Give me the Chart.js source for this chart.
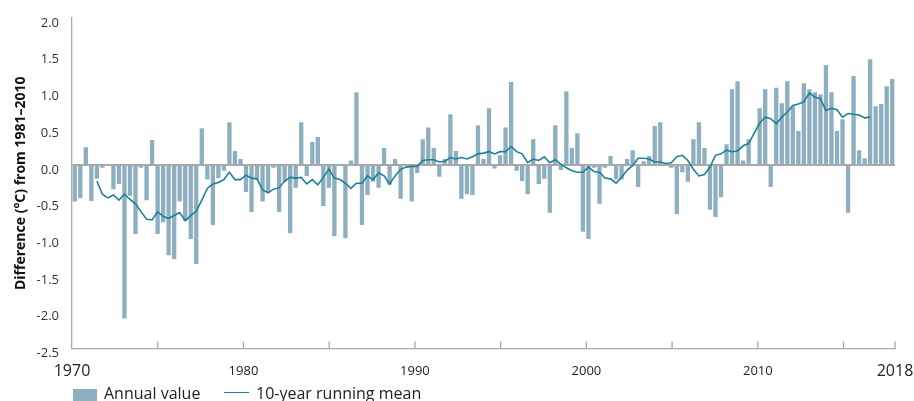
<!DOCTYPE html>
<html>
<head>
<meta charset="utf-8">
<script src="https://cdn.jsdelivr.net/npm/chart.js@4.4.1/dist/chart.umd.min.js"></script>
<style>
  html, body { margin: 0; padding: 0; background: #fff; }
  #wrap { position: relative; width: 914px; height: 401px; overflow: hidden; }
  #chart { position: absolute; left: 0; top: 0; }
  .lg { position: absolute; font-family: "Open Sans", sans-serif; font-size: 16px; line-height: 18px; color: #222; white-space: nowrap; }
  .lg-box { position: absolute; left: 73px; top: 389px; width: 24px; height: 13px; background: #8eafc0; }
  .lg-line { position: absolute; left: 224px; top: 392px; width: 25px; height: 0; border-top: 1.6px solid #1d7f98; }
</style>
</head>
<body>
<div id="wrap">
  <canvas id="chart" width="914" height="401"></canvas>
  <span class="lg-box"></span>
  <span class="lg" style="left:104px; top:384px;">Annual value</span>
  <span class="lg-line"></span>
  <span class="lg" style="left:256px; top:384px;">10-year running mean</span>
</div>
<script>
// ---- data ----
const annualValues = [
  -0.50, -0.45, 0.24, -0.49, -0.19, -0.04, 0.01, -0.33, -0.26, -2.09,
  -0.42, -0.94, -0.04, -0.48, 0.34, -0.94, -0.78, -1.23, -1.28, -0.50,
  -0.76, -1.01, -1.35, 0.50, -0.20, -0.82, -0.18, -0.08, 0.58, 0.19,
  0.08, -0.37, -0.64, -0.20, -0.50, -0.37, -0.04, -0.64, -0.23, -0.93,
  -0.31, 0.58, -0.15, 0.31, 0.38, -0.56, -0.31, -0.97, 0.01, -1.00,
  0.06, 0.99, -0.82, -0.41, -0.23, -0.31, 0.23, -0.27, 0.08, -0.46,
  -0.01, -0.50, -0.11, 0.35, 0.51, 0.23, -0.16, 0.08, 0.69, 0.19,
  -0.46, -0.40, -0.41, 0.54, 0.08, 0.77, -0.05, 0.13, 0.51, 1.13,
  -0.08, -0.22, -0.40, 0.35, -0.26, -0.19, -0.65, 0.54, -0.07, 1.00,
  0.23, 0.43, -0.91, -1.01, -0.04, -0.53, -0.04, 0.12, -0.20, -0.20,
  0.08, 0.20, -0.30, 0.05, 0.12, 0.53, 0.58, 0.00, -0.04, -0.67,
  -0.10, -0.23, 0.35, 0.58, 0.23, -0.61, -0.71, -0.44, 0.28, 1.03,
  1.14, 0.06, 0.35, 0.00, 0.77, 1.03, -0.30, 1.05, 0.84, 1.14,
  0.80, 0.46, 1.11, 1.03, 0.99, 0.96, 1.36, 0.99, 0.46, 0.62,
  -0.65, 1.21, 0.20, 0.09, 1.44, 0.80, 0.83, 1.07, 1.17
];

const runningMean = [
  null, null, null, null, -0.22, -0.40, -0.45, -0.41, -0.48, -0.40,
  -0.47, -0.53, -0.64, -0.74, -0.75, -0.64, -0.70, -0.73, -0.69, -0.65,
  -0.76, -0.69, -0.63, -0.48, -0.32, -0.26, -0.24, -0.20, -0.10, -0.20,
  -0.20, -0.14, -0.18, -0.19, -0.34, -0.38, -0.33, -0.31, -0.22, -0.17,
  -0.18, -0.17, -0.26, -0.20, -0.27, -0.17, -0.06, -0.18, -0.20, -0.25,
  -0.32, -0.25, -0.25, -0.15, -0.20, -0.11, -0.15, -0.26, -0.15, -0.06,
  -0.03, -0.02, -0.02, 0.06, 0.07, 0.07, 0.04, 0.05, 0.10, 0.08,
  0.10, 0.08, 0.11, 0.15, 0.16, 0.18, 0.15, 0.18, 0.18, 0.25,
  0.18, 0.15, 0.03, 0.08, 0.06, 0.11, 0.03, 0.07, 0.01, -0.04,
  -0.08, -0.10, -0.10, -0.03, -0.09, -0.10, -0.18, -0.19, -0.25, -0.17,
  -0.07, -0.01, 0.09, 0.09, 0.08, 0.04, 0.04, 0.02, 0.03, 0.11,
  0.13, 0.06, -0.06, -0.15, -0.13, -0.03, 0.13, 0.15, 0.20, 0.18,
  0.19, 0.26, 0.29, 0.43, 0.57, 0.65, 0.63, 0.56, 0.65, 0.72,
  0.81, 0.83, 0.86, 0.98, 0.92, 0.90, 0.74, 0.77, 0.75, 0.65,
  0.70, 0.69, 0.68, 0.64, 0.65, null, null, null, null
];

const categories = annualValues.map((v, i) => String(i + 1));

const xTickYears = [1970, 1975, 1980, 1985, 1990, 1995, 2000, 2005, 2010, 2015, 2018];
const xLabelYears = [1970, 1980, 1990, 2000, 2010, 2018];
const xBigLabels = [1970, 2018];
const yTicks = [-2.5, -2.0, -1.5, -1.0, -0.5, 0.0, 0.5, 1.0, 1.5, 2.0];

const FONT = "'Open Sans', sans-serif";
const axisGray = "#a8a8a8";
const barColor = "#8eafc0";
const lineColor = "#1d7f98";

// small upward tick marks on the year axis
const innerTicks = {
  id: "innerTicks",
  afterDraw(chart) {
    const s = chart.scales.xYears;
    const c = chart.ctx;
    const bottom = chart.chartArea.bottom;
    c.save();
    c.strokeStyle = axisGray;
    c.lineWidth = 1.3;
    s.ticks.forEach((t) => {
      if (t.value === xTickYears[0]) return;
      const px = s.getPixelForValue(t.value);
      c.beginPath();
      c.moveTo(px, bottom);
      c.lineTo(px, bottom - 7);
      c.stroke();
    });
    c.restore();
  },
};

new Chart(document.getElementById("chart").getContext("2d"), {
  type: "bar",
  data: {
    labels: categories,
    datasets: [
      {
        type: "line",
        label: "10-year running mean",
        data: runningMean,
        borderColor: lineColor,
        borderWidth: 1.6,
        pointRadius: 0,
        tension: 0,
        spanGaps: false,
        order: 0,
      },
      {
        label: "Annual value",
        data: annualValues,
        backgroundColor: barColor,
        borderWidth: 0,
        barPercentage: 0.78,
        categoryPercentage: 1.0,
        order: 1,
      },
    ],
  },
  options: {
    responsive: false,
    animation: false,
    layout: { padding: { top: 18, right: 19, left: 0, bottom: 0 } },
    plugins: {
      legend: { display: false },
      tooltip: { enabled: false },
    },
    scales: {
      x: {
        type: "category",
        display: false,
        offset: true,
      },
      xYears: {
        type: "linear",
        position: "bottom",
        offset: false,
        min: 1970,
        max: 2018,
        afterBuildTicks: (s) => {
          s.ticks = xTickYears.map((v) => ({ value: v }));
        },
        afterFit: (s) => {
          s.height = 52.5;
          s.paddingLeft = 0;
          s.paddingRight = 0;
        },
        grid: { display: false, drawTicks: false, offset: false },
        border: { color: axisGray, width: 1.3 },
        ticks: {
          autoSkip: false,
          maxRotation: 0,
          padding: 15,
          color: "#222",
          font: (ctx) =>
            ctx.tick && xBigLabels.includes(ctx.tick.value)
              ? { family: FONT, size: 16, lineHeight: 1.0 }
              : { family: FONT, size: 13, lineHeight: 1.2 },
          callback: (v) => (xLabelYears.includes(v) ? String(v) : ""),
        },
      },
      y: {
        min: -2.5,
        max: 2.0,
        z: 1,
        afterBuildTicks: (s) => {
          s.ticks = yTicks.map((v) => ({ value: v }));
        },
        afterFit: (s) => {
          s.width = 72;
          s.paddingTop = 0;
          s.paddingBottom = 0;
        },
        grid: {
          drawTicks: false,
          color: (ctx) => (ctx.tick && ctx.tick.value === 0 ? axisGray : "rgba(0,0,0,0)"),
          lineWidth: (ctx) => (ctx.tick && ctx.tick.value === 0 ? 2 : 0),
        },
        border: { color: axisGray, width: 1.3 },
        ticks: {
          padding: 13,
          labelOffset: 5,
          color: "#333",
          font: { family: FONT, size: 13 },
          callback: (v) => Number(v).toFixed(1),
        },
        title: {
          display: true,
          text: "Difference (°C) from 1981–2010",
          color: "#111",
          font: { family: FONT, size: 14, weight: "bold" },
          padding: { top: 13, bottom: 0 },
        },
      },
    },
  },
  plugins: [innerTicks],
});
</script>
</body>
</html>
